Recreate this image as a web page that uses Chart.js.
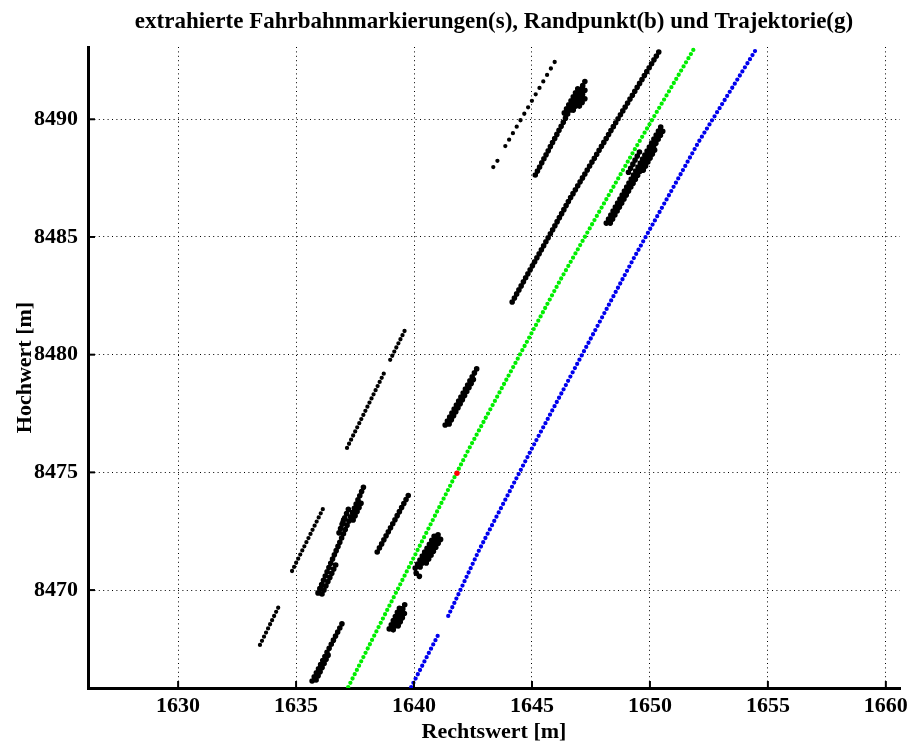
<!DOCTYPE html>
<html>
<head>
<meta charset="utf-8">
<script src="https://cdn.jsdelivr.net/npm/chart.js@4.4.1/dist/chart.umd.min.js"></script>
<style>
  html, body { margin: 0; padding: 0; background: #fff; }
  #wrap { width: 911px; height: 743px; }
</style>
</head>
<body>
<div id="wrap"><canvas id="myChart" width="911" height="743"></canvas></div>
<script>
// tick values of both axes
const xTicks = [1630, 1635, 1640, 1645, 1650, 1655, 1660];
const yTicks = [8470, 8475, 8480, 8485, 8490];

// trajectory (green)
const trajX = [1637.21, 1641.63, 1642.35, 1646.20, 1649.39, 1651.90];
const trajY = [8465.88, 8474.63, 8476.04, 8483.17, 8488.78, 8493.05];

// current trajectory point (red)
const curX = [1641.82];
const curY = [8474.96];

// road edge points (blue), null = gap
const edgeX = [1639.88, 1641.02, null, 1641.45, 1642.76, 1645.01, 1647.05, 1649.30, 1652.06, 1654.56];
const edgeY = [8465.88, 8468.09, null, 8468.90, 8471.70, 8476.04, 8479.86, 8484.07, 8489.03, 8493.07];

// extracted lane markings (black), dense strips, null = new strip
const markX = [
  1645.14, 1647.30, null, 1646.37, 1646.96, null, 1646.75, 1647.30, null, 1647.01, 1647.26, null,
  1644.16, 1646.63, 1648.87, 1650.40, null,
  1648.15, 1650.53, null, 1648.32, 1650.62, null, 1649.09, 1649.60, null, 1649.72, 1650.25, null,
  1641.32, 1642.68, null, 1641.49, 1642.55, null,
  1635.93, 1637.86, null, 1636.10, 1636.70, null, 1636.82, 1637.03, null, 1636.99, 1637.29, null, 1637.42, 1637.76, null,
  1635.68, 1637.03, null, 1635.85, 1636.36, null,
  1638.44, 1639.79, null,
  1640.09, 1640.26, null, 1640.05, 1640.94, null, 1640.26, 1641.11, null, 1640.52, 1641.19, null,
  1638.95, 1639.45, null, 1639.12, 1639.62, null, 1639.33, 1639.67
];
const markY = [
  8487.63, 8491.71, null, 8490.27, 8491.33, null, 8490.39, 8491.33, null, 8490.56, 8490.90, null,
  8482.24, 8486.66, 8490.39, 8492.90, null,
  8485.59, 8489.80, null, 8485.59, 8489.63, null, 8487.75, 8488.69, null, 8487.84, 8488.78, null,
  8477.01, 8479.44, null, 8477.06, 8479.01, null,
  8469.88, 8474.38, null, 8469.83, 8471.11, null, 8472.43, 8473.02, null, 8472.89, 8473.61, null, 8472.98, 8473.70, null,
  8466.14, 8468.73, null, 8466.18, 8467.24, null,
  8471.62, 8474.08, null,
  8470.72, 8470.55, null, 8470.94, 8472.43, null, 8470.98, 8472.51, null, 8471.15, 8472.26, null,
  8468.35, 8469.37, null, 8468.31, 8469.41, null, 8468.48, 8469.16
];

// thin single-row markings
const thinX = [1637.16, 1638.73, null, 1638.99, 1639.62, null, 1633.47, 1634.32, null, 1634.83, 1636.14];
const thinY = [8476.04, 8479.22, null, 8479.78, 8481.05, null, 8467.67, 8469.41, null, 8470.81, 8473.45];

// sparse marking top left of the trajectory
const sparseX = [1643.36, 1643.61, null, 1643.87, 1645.99];
const sparseY = [8487.97, 8488.35, null, 8488.86, 8492.48];

function pts(xs, ys) {
  return xs.map((x, i) => ({ x: x, y: ys[i] }));
}

function dotted(data, color, size, gap) {
  return {
    data: data,
    showLine: true,
    spanGaps: false,
    borderColor: color,
    borderWidth: size,
    borderDash: [0, gap],
    borderCapStyle: 'round',
    pointRadius: 0,
    pointHoverRadius: 0
  };
}

const serif = 'Liberation Serif, Times New Roman, serif';

// MATLAB style tick marks pointing into the axes
const innerTicks = {
  id: 'innerTicks',
  afterDraw(chart) {
    const { ctx, chartArea, scales } = chart;
    ctx.save();
    ctx.strokeStyle = '#000';
    ctx.lineWidth = 2;
    scales.x.ticks.forEach(t => {
      const px = scales.x.getPixelForValue(t.value);
      ctx.beginPath();
      ctx.moveTo(px, chartArea.bottom);
      ctx.lineTo(px, chartArea.bottom - 7);
      ctx.stroke();
    });
    scales.y.ticks.forEach(t => {
      const py = scales.y.getPixelForValue(t.value);
      ctx.beginPath();
      ctx.moveTo(chartArea.left, py);
      ctx.lineTo(chartArea.left + 7, py);
      ctx.stroke();
    });
    ctx.restore();
  }
};

const ctx = document.getElementById('myChart');
new Chart(ctx, {
  type: 'scatter',
  data: {
    datasets: [
      // first dataset is painted last, so the red point stays on top
      {
        data: pts(curX, curY),
        pointRadius: 2.7,
        pointBackgroundColor: '#ff0000',
        pointBorderWidth: 0
      },
      dotted(pts(trajX, trajY), '#00ee00', 4.3, 4.8),
      dotted(pts(edgeX, edgeY), '#0000ee', 4.3, 4.8),
      dotted(pts(sparseX, sparseY), '#000', 4.3, 7.5),
      dotted(pts(thinX, thinY), '#000', 4.3, 4.6),
      dotted(pts(markX, markY), '#000', 5.6, 4.6)
    ]
  },
  options: {
    responsive: false,
    animation: false,
    layout: { padding: { left: 0, right: 11, top: 0, bottom: 0 } },
    plugins: {
      legend: { display: false },
      tooltip: { enabled: false },
      title: {
        display: true,
        fullSize: false,
        text: 'extrahierte Fahrbahnmarkierungen(s), Randpunkt(b) und Trajektorie(g)',
        color: '#000',
        font: { family: serif, size: 23, weight: 'bold' },
        padding: { top: 8, bottom: 11.4 }
      }
    },
    scales: {
      x: {
        type: 'linear',
        min: 1626.18,
        max: 1660.6,
        afterFit: s => { s.height = 55; s.paddingLeft = 0; s.paddingRight = 0; },
        afterBuildTicks: s => { s.ticks = xTicks.map(v => ({ value: v })); },
        ticks: {
          color: '#000',
          padding: 5,
          font: { family: serif, size: 22, weight: 'bold' },
          callback: v => String(v)
        },
        grid: { color: '#000', lineWidth: 1, drawTicks: false },
        border: { display: true, color: '#000', width: 3, dash: [1, 3.4] },
        title: {
          display: true,
          text: 'Rechtswert [m]',
          color: '#000',
          font: { family: serif, size: 22, weight: 'bold', lineHeight: 1.0 },
          padding: { top: 0, bottom: 0 }
        }
      },
      y: {
        type: 'linear',
        min: 8465.84,
        max: 8493.07,
        afterFit: s => { s.width = 88; s.paddingTop = 0; s.paddingBottom = 0; },
        afterBuildTicks: s => { s.ticks = yTicks.map(v => ({ value: v })); },
        ticks: {
          color: '#000',
          padding: 10,
          font: { family: serif, size: 22, weight: 'bold' },
          callback: v => String(v)
        },
        grid: { color: '#000', lineWidth: 1, drawTicks: false },
        border: { display: true, color: '#000', width: 3, dash: [1, 3.4] },
        title: {
          display: true,
          text: 'Hochwert [m]',
          color: '#000',
          font: { family: serif, size: 22, weight: 'bold' },
          padding: { top: 12, bottom: 2 }
        }
      }
    }
  },
  plugins: [innerTicks]
});
</script>
</body>
</html>
